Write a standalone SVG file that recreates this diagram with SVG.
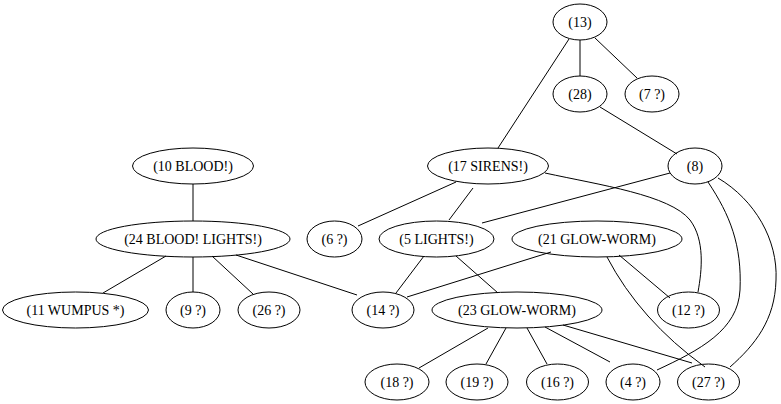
<svg xmlns="http://www.w3.org/2000/svg" width="781" height="404" viewBox="0 0 781 404">
<style>
.n ellipse{fill:none;stroke:#000;stroke-width:1}
.n text{font-size:14px;text-anchor:middle;fill:#000}
#edges path{fill:none;stroke:#000;stroke-width:1}
</style>
<rect width="781" height="404" fill="#fff"/>
<g id="edges">
<path d="M569,39 L498,148"/>
<path d="M580,40 L580,76"/>
<path d="M595,38 L637,78"/>
<path d="M600,107 L677,154"/>
<path d="M670,173 L482,223"/>
<path d="M456,182 L358,226"/>
<path d="M473,188 L449,220"/>
<path d="M545,173 C600,185 670,195 690,220 C705,240 702,270 698,292"/>
<path d="M708,182 C730,215 742,245 740,290 C738,330 700,350 657,370"/>
<path d="M718,178 C755,200 778,240 776,280 C775,320 755,345 730,367"/>
<path d="M607,257 Q640,320 705,367"/>
<path d="M193,184 L193,221"/>
<path d="M166,256 L103,293"/>
<path d="M193,257 L193,292"/>
<path d="M212,256 L253,294"/>
<path d="M236,255 L357,295"/>
<path d="M424,256 L396,293"/>
<path d="M456,256 L498,293"/>
<path d="M551,252 L407,297"/>
<path d="M619,255 L670,298"/>
<path d="M488,328 L419,368"/>
<path d="M506,328 L486,364"/>
<path d="M527,328 L547,364"/>
<path d="M545,327 L610,362"/>
<path d="M563,325 L692,363"/>
</g>
<g font-family="'Liberation Serif', 'Times New Roman', serif">
<g id="n13" class="n"><ellipse cx="580" cy="22" rx="27" ry="18"/><text x="580" y="26.5">(13)</text></g>
<g id="n28" class="n"><ellipse cx="580" cy="94" rx="27" ry="18"/><text x="580" y="98.5">(28)</text></g>
<g id="n7" class="n"><ellipse cx="652" cy="94" rx="27" ry="18"/><text x="652" y="98.5">(7 ?)</text></g>
<g id="n17" class="n"><ellipse cx="488" cy="166" rx="60.5" ry="18"/><text x="488" y="170.5">(17 SIRENS!)</text></g>
<g id="n8" class="n"><ellipse cx="695" cy="166" rx="27" ry="18"/><text x="695" y="170.5">(8)</text></g>
<g id="n10" class="n"><ellipse cx="193" cy="166" rx="60.5" ry="18"/><text x="193" y="170.5">(10 BLOOD!)</text></g>
<g id="n24" class="n"><ellipse cx="193" cy="239" rx="97" ry="18"/><text x="193" y="243.5">(24 BLOOD! LIGHTS!)</text></g>
<g id="n6" class="n"><ellipse cx="334.5" cy="239" rx="27.5" ry="18"/><text x="334.5" y="243.5">(6 ?)</text></g>
<g id="n5" class="n"><ellipse cx="436.5" cy="239" rx="57.5" ry="18"/><text x="436.5" y="243.5">(5 LIGHTS!)</text></g>
<g id="n21" class="n"><ellipse cx="597" cy="239" rx="85" ry="18"/><text x="597" y="243.5">(21 GLOW-WORM)</text></g>
<g id="n11" class="n"><ellipse cx="75.5" cy="310" rx="73" ry="18"/><text x="75.5" y="314.5">(11 WUMPUS *)</text></g>
<g id="n9" class="n"><ellipse cx="193" cy="310" rx="27" ry="18"/><text x="193" y="314.5">(9 ?)</text></g>
<g id="n26" class="n"><ellipse cx="269" cy="310" rx="31" ry="18"/><text x="269" y="314.5">(26 ?)</text></g>
<g id="n14" class="n"><ellipse cx="383" cy="310" rx="31" ry="18"/><text x="383" y="314.5">(14 ?)</text></g>
<g id="n23" class="n"><ellipse cx="517" cy="310" rx="85" ry="18"/><text x="517" y="314.5">(23 GLOW-WORM)</text></g>
<g id="n12" class="n"><ellipse cx="688.5" cy="310" rx="31" ry="18"/><text x="688.5" y="314.5">(12 ?)</text></g>
<g id="n18" class="n"><ellipse cx="397" cy="382" rx="32" ry="18"/><text x="397" y="386.5">(18 ?)</text></g>
<g id="n19" class="n"><ellipse cx="477" cy="382" rx="31" ry="18"/><text x="477" y="386.5">(19 ?)</text></g>
<g id="n16" class="n"><ellipse cx="557.5" cy="382" rx="31" ry="18"/><text x="557.5" y="386.5">(16 ?)</text></g>
<g id="n4" class="n"><ellipse cx="633" cy="382" rx="27" ry="18"/><text x="633" y="386.5">(4 ?)</text></g>
<g id="n27" class="n"><ellipse cx="708.5" cy="382" rx="31" ry="18"/><text x="708.5" y="386.5">(27 ?)</text></g>
</g>
</svg>
